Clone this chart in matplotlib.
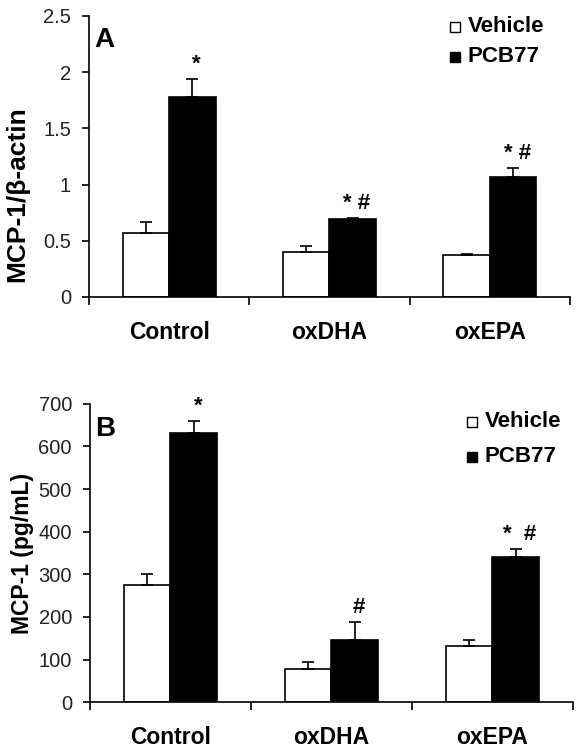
import matplotlib
matplotlib.use("Agg")
import matplotlib.pyplot as plt
import numpy as np

plt.rcParams['font.family'] = ['Liberation Sans', 'DejaVu Sans']

groups = ['Control', 'oxDHA', 'oxEPA']

# panel A: MCP-1 / beta-actin
a_vehicle = [0.57, 0.40, 0.37]
a_vehicle_err = [0.10, 0.055, 0.012]
a_pcb = [1.78, 0.69, 1.07]
a_pcb_err = [0.16, 0.012, 0.08]
a_marks = ['*', '* #', '* #']
a_ticks = [0, 0.5, 1, 1.5, 2, 2.5]
a_ticklabels = ['0', '0.5', '1', '1.5', '2', '2.5']

# panel B: MCP-1 pg/mL
b_vehicle = [274, 77, 132]
b_vehicle_err = [26, 18, 14]
b_pcb = [631, 146, 341]
b_pcb_err = [28, 43, 18]
b_marks = ['*', '#', '*  #']
b_ticks = [0, 100, 200, 300, 400, 500, 600, 700]

fig = plt.figure(figsize=(5.81, 7.53), dpi=100)
axA = fig.add_axes([0.1532, 0.6056, 0.8278, 0.3732])
axB = fig.add_axes([0.1549, 0.0673, 0.8313, 0.3966])

w = 0.29
x = np.arange(len(groups)) + 0.5


def draw(ax, veh, veh_err, pcb, pcb_err, marks, ylim, yticks, yticklabels,
         ylabel, ylabel_size, ylabel_pos, letter, leg_x, leg_y, leg_dy):
    ax.bar(x - w / 2, veh, w, color='white', edgecolor='black', linewidth=1.2,
           yerr=[np.zeros(3), veh_err], capsize=4,
           error_kw=dict(elinewidth=1.2, capthick=1.2, ecolor='black'))
    ax.bar(x + w / 2, pcb, w, color='black', edgecolor='black', linewidth=1.2,
           yerr=[np.zeros(3), pcb_err], capsize=4,
           error_kw=dict(elinewidth=1.2, capthick=1.2, ecolor='black'))
    for xi, v, e, m in zip(x + w / 2, pcb, pcb_err, marks):
        ax.annotate(m, (xi, v + e), xytext=(3, 3), textcoords='offset points',
                    ha='center', va='bottom', fontsize=16, fontweight='bold')
    ax.set_xlim(0, 3)
    ax.set_ylim(*ylim)
    ax.set_yticks(yticks)
    ax.set_yticklabels(yticklabels, fontsize=14.5, color='#222222')
    ax.set_xticks(x)
    ax.set_xticklabels(groups, fontsize=16.5, fontweight='bold')
    ax.set_xticks([0, 1, 2, 3], minor=True)
    ax.tick_params(axis='x', which='major', length=0, pad=17)
    ax.tick_params(axis='x', which='minor', length=6, width=1.2, direction='out')
    ax.tick_params(axis='y', length=5, width=1.2, direction='out', pad=8)
    for s in ['top', 'right']:
        ax.spines[s].set_visible(False)
    for s in ['left', 'bottom']:
        ax.spines[s].set_linewidth(1.2)
    ax.set_ylabel(ylabel, fontsize=ylabel_size, fontweight='bold')
    ax.yaxis.set_label_coords(*ylabel_pos)
    ax.text(0.01, 0.96, letter, transform=ax.transAxes, fontsize=20,
            fontweight='bold', va='top', ha='left')
    # legend as marker + text
    ax.plot([leg_x], [leg_y], marker='s', ms=7.5, mfc='white', mec='black', mew=1,
            transform=ax.transAxes, clip_on=False)
    ax.text(leg_x + 0.026, leg_y, 'Vehicle', transform=ax.transAxes, fontsize=16,
            fontweight='bold', va='center', ha='left')
    ax.plot([leg_x], [leg_y - leg_dy], marker='s', ms=7.5, mfc='black', mec='black',
            transform=ax.transAxes, clip_on=False)
    ax.text(leg_x + 0.026, leg_y - leg_dy, 'PCB77', transform=ax.transAxes, fontsize=16,
            fontweight='bold', va='center', ha='left')


draw(axA, a_vehicle, a_vehicle_err, a_pcb, a_pcb_err, a_marks, (0, 2.5),
     a_ticks, a_ticklabels, 'MCP-1/β-actin', 19, (-0.125, 0.365), 'A',
     0.761, 0.961, 0.107)
draw(axB, b_vehicle, b_vehicle_err, b_pcb, b_pcb_err, b_marks, (0, 700),
     b_ticks, [str(t) for t in b_ticks], 'MCP-1 (pg/mL)', 16.5, (-0.116, 0.497), 'B',
     0.791, 0.94, 0.117)

fig.savefig('out.png', dpi=100)
